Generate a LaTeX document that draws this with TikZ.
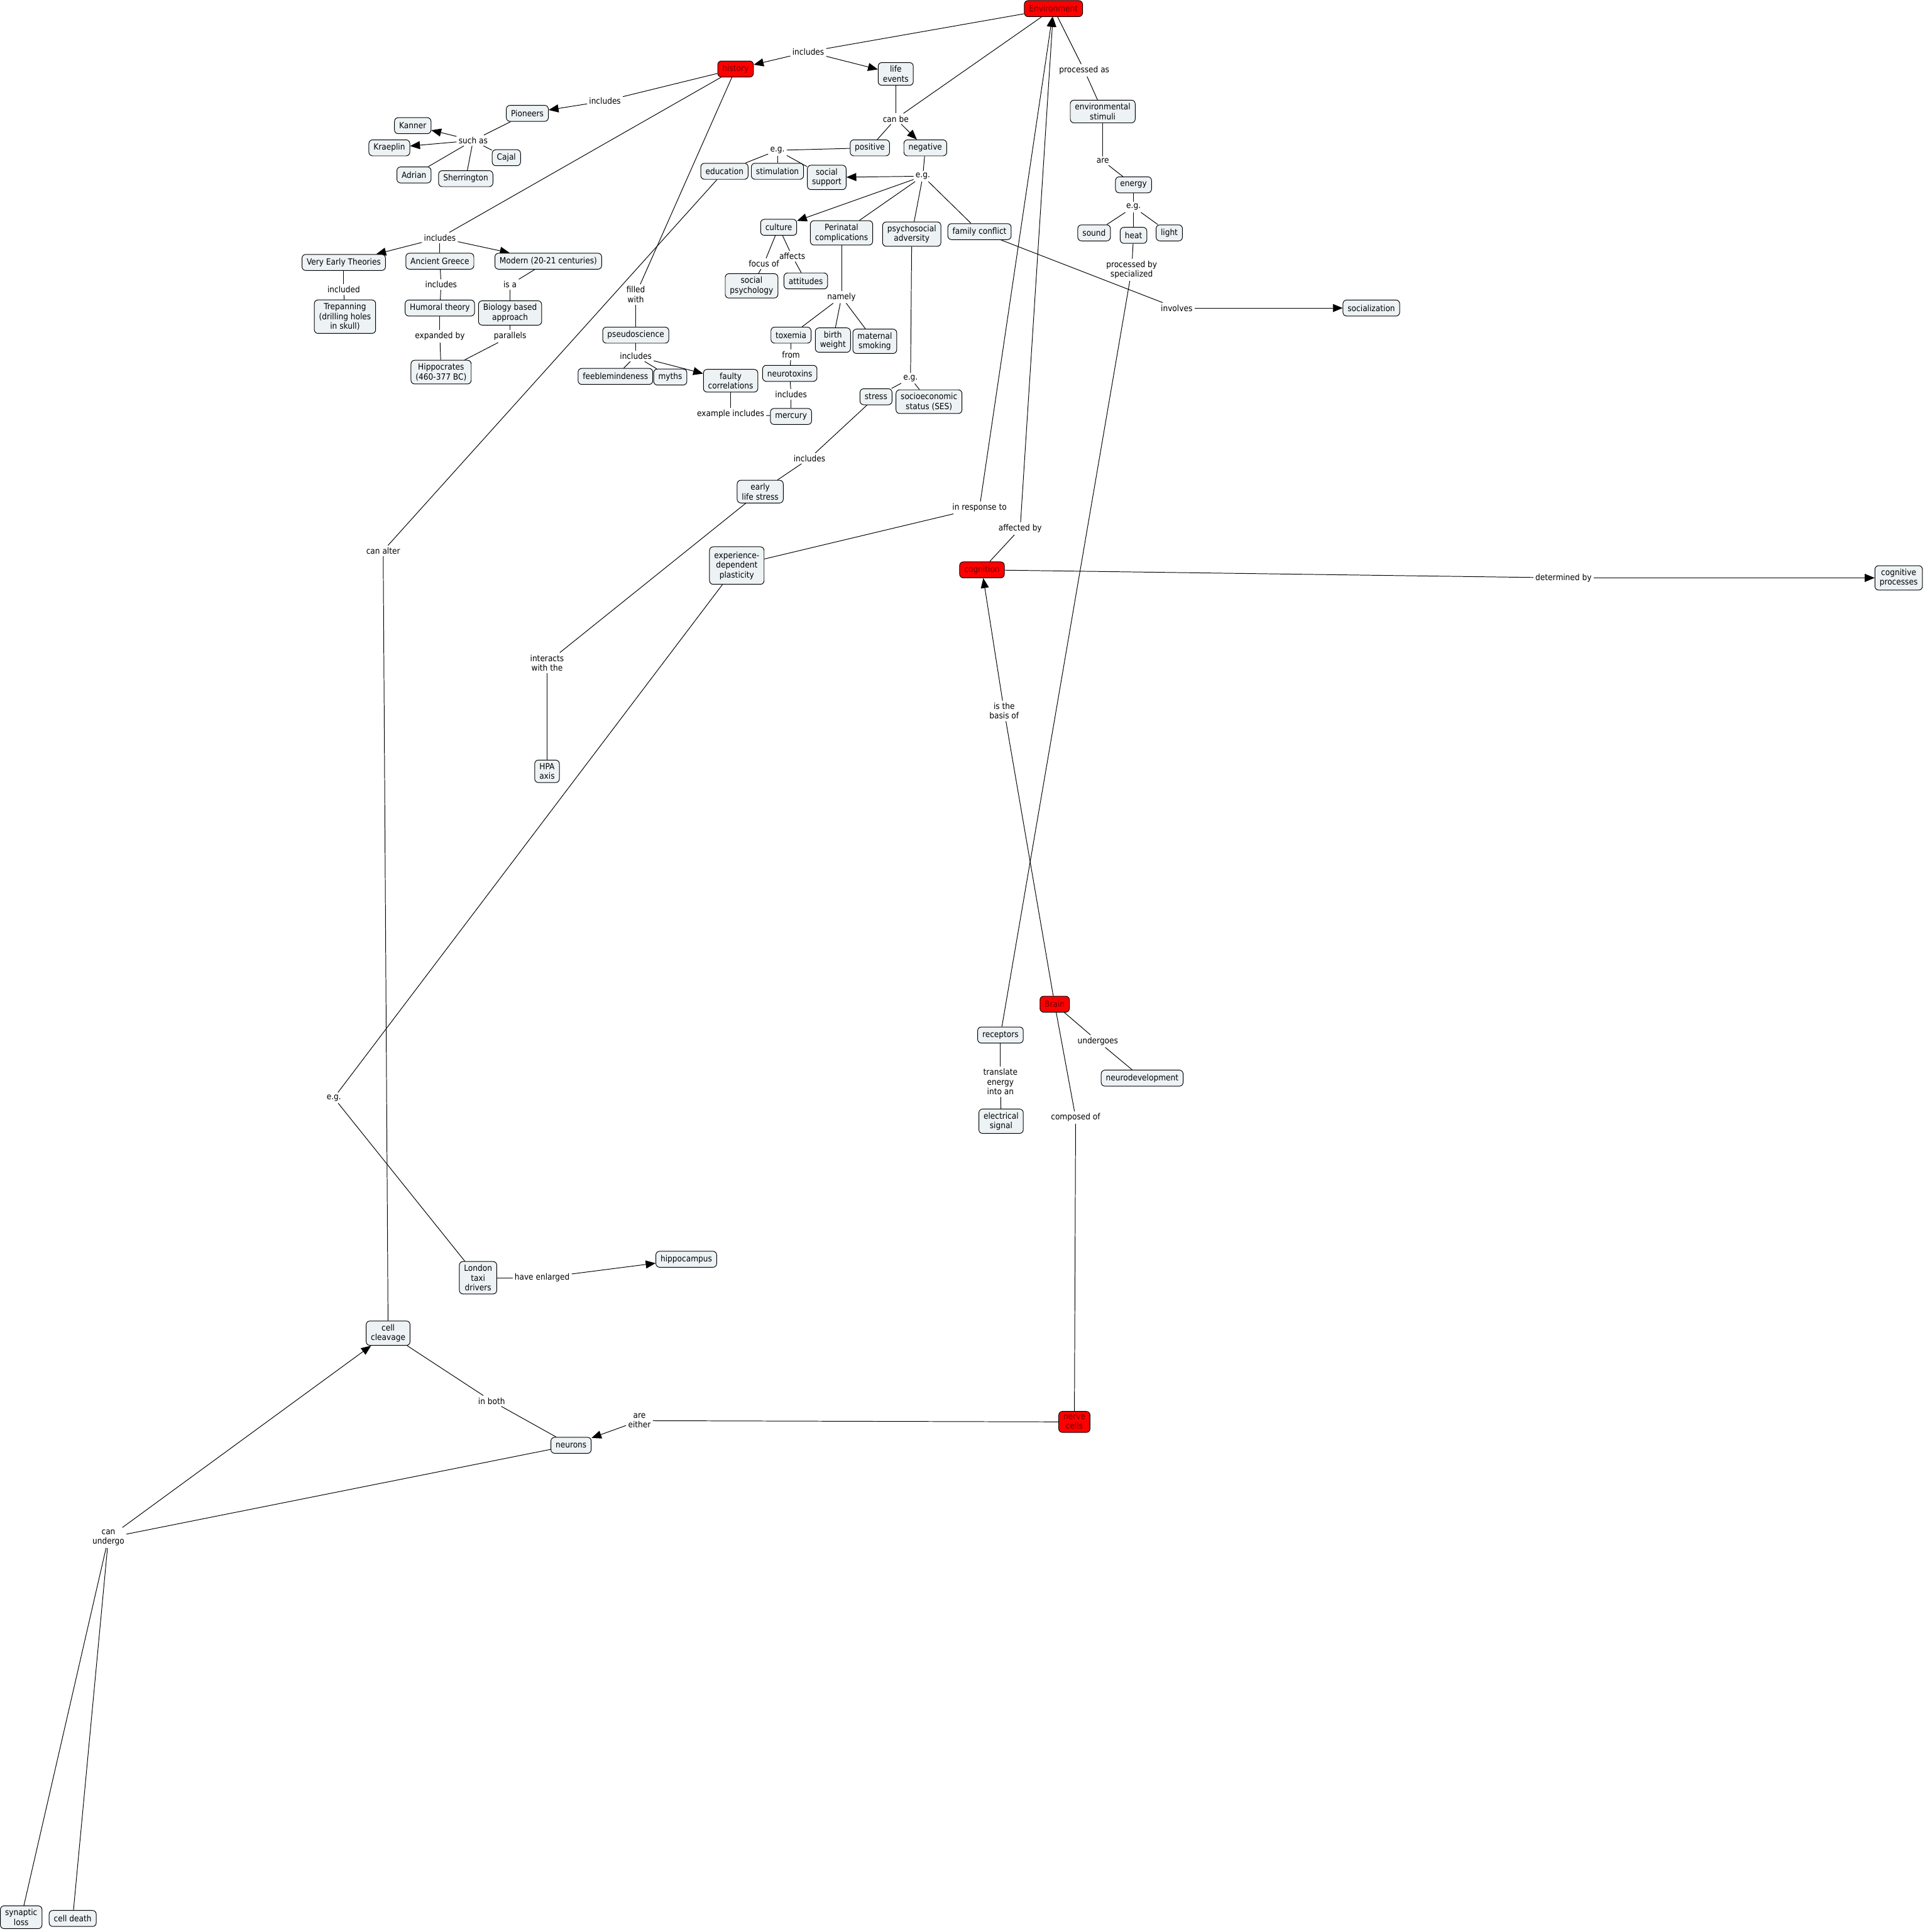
\documentclass[tikz,border=0pt]{standalone}
\usepackage{fontspec}
\newfontfamily\mapfam{DejaVu Sans}[FakeStretch=0.9]
\usetikzlibrary{arrows.meta}
\definecolor{cfill}{RGB}{237,242,245}
\definecolor{hotfill}{RGB}{255,0,0}
\definecolor{hottext}{RGB}{110,0,0}
\newcommand\mapfont{\mapfam\fontsize{6.9}{7.9}\selectfont}
\pgfdeclarelayer{bg}
\pgfsetlayers{bg,main}
\begin{document}
\begin{tikzpicture}[x=1pt,y=-1pt,
 base/.style={font=\mapfont, inner xsep=3.8pt, inner ysep=2.6pt, rounded corners=3pt, draw=black, line width=0.5pt, align=center, minimum height=13pt},
 cpt/.style={base, fill=cfill},
 hot/.style={base, fill=hotfill, text=hottext},
 lp/.style={font=\mapfont, inner sep=1.5pt, align=center},
 con/.style={line width=0.5pt, draw=black},
 arr/.style={con, -{Triangle[length=8pt,width=6.5pt]}},
]
\useasboundingbox (0,0) rectangle (1562,1568);

% ---------- concepts ----------
\node[hot] (env) at (855,7) {Environment};
\node[hot] (hist) at (597,56) {history};
\node[cpt] (life) at (727,60) {life\\events};
\node[cpt] (pion) at (428,92) {Pioneers};
\node[cpt] (kanner) at (335,102) {Kanner};
\node[cpt] (kraep) at (316,120) {Kraeplin};
\node[cpt] (cajal) at (411,128) {Cajal};
\node[cpt] (adrian) at (336,142) {Adrian};
\node[cpt] (sherr) at (378,145) {Sherrington};
\node[cpt] (pos) at (706,120) {positive};
\node[cpt] (neg) at (751,120) {negative};
\node[cpt] (edu) at (588,139) {education};
\node[cpt] (stim) at (631,139) {stimulation};
\node[cpt] (soc) at (671,144) {social\\support};
\node[cpt] (envst) at (895,90.5) {environmental\\stimuli};
\node[cpt] (energy) at (920,150) {energy};
\node[cpt] (sound) at (888,189) {sound};
\node[cpt] (heat) at (920,191) {heat};
\node[cpt] (light) at (949,189) {light};
\node[cpt] (culture) at (632,184.5) {culture};
\node[cpt] (peri) at (683,189) {Perinatal\\complications};
\node[cpt] (psy) at (740,190) {psychosocial\\adversity};
\node[cpt] (fam) at (795,188) {family conflict};
\node[cpt] (socpsy) at (610,232) {social\\psychology};
\node[cpt] (att) at (654,228) {attitudes};
\node[cpt] (vet) at (279,213) {Very Early Theories};
\node[cpt] (ag) at (357,212) {Ancient Greece};
\node[cpt] (modern) at (445,212) {Modern (20-21 centuries)};
\node[cpt] (trep) at (280,257) {Trepanning\\(drilling holes\\in skull)};
\node[cpt] (hum) at (357,250) {Humoral theory};
\node[cpt] (bio) at (414,254) {Biology based\\approach};
\node[cpt] (hipp) at (358,302) {Hippocrates\\(460-377 BC)};
\node[cpt] (pseudo) at (516,272) {pseudoscience};
\node[cpt] (feeble) at (499.5,305.5) {feeblemindeness};
\node[cpt] (myths) at (544,306) {myths};
\node[cpt] (faulty) at (593,309) {faulty\\correlations};
\node[cpt] (tox) at (642,272) {toxemia};
\node[cpt] (birth) at (676,276) {birth\\weight};
\node[cpt] (smok) at (710,277) {maternal\\smoking};
\node[cpt] (neurotox) at (641,303) {neurotoxins};
\node[cpt] (merc) at (642,338) {mercury};
\node[cpt] (stress) at (711,322) {stress};
\node[cpt] (ses) at (754,326) {socioeconomic\\status (SES)};
\node[cpt] (socz) at (1113,250) {socialization};
\node[cpt] (els) at (617,399) {early\\life stress};
\node[cpt, inner ysep=4pt] (edp) at (598,459) {experience-\\dependent\\plasticity};
\node[hot] (cog) at (797,462.5) {cognition};
\node[cpt] (cogp) at (1541,469) {cognitive\\processes};
\node[cpt] (hpa) at (444,626) {HPA\\axis};
\node[hot] (brain) at (856,815) {Brain};
\node[cpt] (rec) at (812,840) {receptors};
\node[cpt] (neurodev) at (927,875) {neurodevelopment};
\node[cpt] (elec) at (812.5,910) {electrical\\signal};
\node[cpt] (hippoc) at (557,1022) {hippocampus};
\node[cpt] (london) at (388,1037) {London\\taxi\\drivers};
\node[cpt] (cleav) at (315,1082) {cell\\cleavage};
\node[hot] (nerve) at (872,1154) {nerve\\cells};
\node[cpt] (neurons) at (463.5,1173) {neurons};
\node[cpt] (synl) at (17.2,1556) {synaptic\\loss};
\node[cpt] (celld) at (59,1557) {cell death};

% ---------- linking phrases ----------
\node[lp] (linc1) at (656,42) {includes};
\node[lp] (linc2) at (491,82) {includes};
\node[lp] (lsuch) at (384,114) {such as};
\node[lp] (linc3) at (357,193) {includes};
\node[lp] (lcanbe) at (727,96.4) {can be};
\node[lp] (lproc) at (880,57) {processed as};
\node[lp] (legp) at (631,122) {e.g.};
\node[lp] (legn) at (749,143) {e.g.};
\node[lp] (lare) at (895,130.5) {are};
\node[lp] (lege) at (920,168) {e.g.};
\node[lp] (lprocby) at (918.5,219) {processed by\\specialized};
\node[lp] (lfocus) at (620,214) {focus of};
\node[lp] (laff) at (643,208) {affects};
\node[lp] (lnamely) at (683,241) {namely};
\node[lp] (lfrom) at (642,288) {from};
\node[lp] (linc4) at (642,320) {includes};
\node[lp] (lexinc) at (593,336) {example includes};
\node[lp] (legs) at (739,307) {e.g.};
\node[lp] (linvolves) at (955,250) {involves};
\node[lp] (lincluded) at (279,235) {included};
\node[lp] (linc5) at (358,231) {includes};
\node[lp] (lisa) at (414,231) {is a};
\node[lp] (lexpby) at (357,273) {expanded by};
\node[lp] (lpar) at (414,273) {parallels};
\node[lp] (lfilled) at (516,239) {filled\\with};
\node[lp] (linc6) at (516,289) {includes};
\node[lp] (linc7) at (657,372) {includes};
\node[lp] (lresp) at (795,412) {in response to};
\node[lp] (laffby) at (828,429) {affected by};
\node[lp] (ldet) at (1269,469) {determined by};
\node[lp] (linteracts) at (444,538) {interacts\\with the};
\node[lp] (lbasis) at (815,577) {is the\\basis of};
\node[lp] (lcanalter) at (311,447) {can alter};
\node[lp] (legl) at (271,891) {e.g.};
\node[lp] (lundergoes) at (891,845) {undergoes};
\node[lp] (ltranslate) at (812,878) {translate\\energy\\into an};
\node[lp] (lcomposed) at (873,907) {composed of};
\node[lp] (lenlarged) at (440,1037) {have enlarged};
\node[lp] (linboth) at (399,1137) {in both};
\node[lp] (leither) at (519,1153) {are\\either};
\node[lp] (lcanund) at (88,1248) {can\\undergo};

% ---------- connectors ----------
\begin{pgfonlayer}{bg}
\draw[con] (env) -- (linc1);
\draw[arr] (linc1) -- (hist);
\draw[arr] (linc1) -- (life);
\draw[con] (env) -- (lproc);
\draw[con] (lproc) -- (envst);
\draw[con] (env) -- (lcanbe);
\draw[con] (life) -- (lcanbe);
\draw[con] (lcanbe) -- (pos);
\draw[arr] (lcanbe) -- (neg);
\draw[con] (hist) -- (linc2);
\draw[arr] (linc2) -- (pion);
\draw[con] (pion) -- (lsuch);
\draw[arr] (lsuch) -- (kanner);
\draw[arr] (lsuch) -- (kraep);
\draw[con] (lsuch) -- (cajal);
\draw[con] (lsuch) -- (adrian);
\draw[con] (lsuch) -- (sherr);
\draw[con] (hist) -- (linc3);
\draw[arr] (linc3) -- (vet);
\draw[con] (linc3) -- (ag);
\draw[arr] (linc3) -- (modern);
\draw[con] (hist) -- (lfilled);
\draw[con] (lfilled) -- (pseudo);
\draw[con] (vet) -- (lincluded);
\draw[con] (lincluded) -- (trep);
\draw[con] (ag) -- (linc5);
\draw[con] (linc5) -- (hum);
\draw[con] (hum) -- (lexpby);
\draw[con] (lexpby) -- (hipp);
\draw[con] (modern) -- (lisa);
\draw[con] (lisa) -- (bio);
\draw[con] (bio) -- (lpar);
\draw[con] (lpar) -- (hipp);
\draw[con] (pseudo) -- (linc6);
\draw[con] (linc6) -- (feeble);
\draw[con] (linc6) -- (myths);
\draw[arr] (linc6) -- (faulty);
\draw[con] (faulty) -- (lexinc);
\draw[con] (lexinc) -- (merc);
\draw[con] (pos) -- (legp);
\draw[con] (legp) -- (edu);
\draw[con] (legp) -- (stim);
\draw[con] (legp) -- (soc);
\draw[con] (neg) -- (legn);
\draw[arr] (legn) -- (soc);
\draw[arr] (legn) -- (culture);
\draw[con] (legn) -- (peri);
\draw[con] (legn) -- (psy);
\draw[con] (legn) -- (fam);
\draw[con] (culture) -- (lfocus);
\draw[con] (lfocus) -- (socpsy);
\draw[con] (culture) -- (laff);
\draw[con] (laff) -- (att);
\draw[con] (peri) -- (lnamely);
\draw[con] (lnamely) -- (tox);
\draw[con] (lnamely) -- (birth);
\draw[con] (lnamely) -- (smok);
\draw[con] (tox) -- (lfrom);
\draw[con] (lfrom) -- (neurotox);
\draw[con] (neurotox) -- (linc4);
\draw[con] (linc4) -- (merc);
\draw[con] (psy) -- (legs);
\draw[con] (legs) -- (stress);
\draw[con] (legs) -- (ses);
\draw[con] (stress) -- (linc7);
\draw[con] (linc7) -- (els);
\draw[con] (els) -- (linteracts);
\draw[con] (linteracts) -- (hpa);
\draw[con] (edu) -- (lcanalter);
\draw[con] (lcanalter) -- (cleav);
\draw[con] (edp) -- (legl);
\draw[con] (legl) -- (london);
\draw[con] (london) -- (lenlarged);
\draw[arr] (lenlarged) -- (hippoc);
\draw[con] (envst) -- (lare);
\draw[con] (lare) -- (energy);
\draw[con] (energy) -- (lege);
\draw[con] (lege) -- (sound);
\draw[con] (lege) -- (heat);
\draw[con] (lege) -- (light);
\draw[con] (heat) -- (lprocby);
\draw[con] (lprocby) -- (rec);
\draw[con] (fam) -- (linvolves);
\draw[arr] (linvolves) -- (socz);
\draw[con] (edp) -- (lresp);
\draw[arr] (lresp) -- (env);
\draw[con] (cog) -- (laffby);
\draw[arr] (laffby) -- (env);
\draw[con] (cog) -- (ldet);
\draw[arr] (ldet) -- (cogp);
\draw[con] (brain) -- (lbasis);
\draw[arr] (lbasis) -- (cog);
\draw[con] (brain) -- (lundergoes);
\draw[con] (lundergoes) -- (neurodev);
\draw[con] (brain) -- (lcomposed);
\draw[con] (lcomposed) -- (nerve);
\draw[con] (rec) -- (ltranslate);
\draw[con] (ltranslate) -- (elec);
\draw[con] (nerve) -- (leither);
\draw[arr] (leither) -- (neurons);
\draw[con] (cleav) -- (linboth);
\draw[con] (linboth) -- (neurons);
\draw[con] (neurons) -- (lcanund);
\draw[arr] (lcanund) -- (cleav);
\draw[con] (lcanund) -- (synl);
\draw[con] (lcanund) -- (celld);
\end{pgfonlayer}
\end{tikzpicture}
\end{document}
